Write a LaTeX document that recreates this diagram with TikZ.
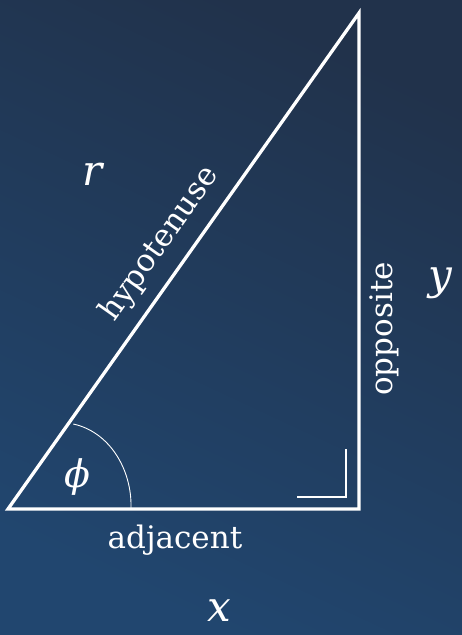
\documentclass[tikz,border=0pt]{standalone}
\usepackage{fontspec}
\setmainfont{DejaVu Serif}
\definecolor{bgtop}{HTML}{21324B}
\definecolor{bgbot}{HTML}{21466F}
\tikzset{
  side/.style={draw=white, line width=3.3pt, line join=miter},
  rmark/.style={draw=white, line width=1.7pt},
  anglearc/.style={draw=white, line width=0.9pt},
  word/.style={text=white, inner sep=0pt, font=\fontsize{31}{31}\selectfont},
  var/.style={text=white, inner sep=0pt, font=\fontsize{42}{42}\selectfont\itshape},
}
\begin{document}
\begin{tikzpicture}[x=1pt, y=-1pt]
\useasboundingbox (0,0) rectangle (462,635);
\shade[top color=bgtop, bottom color=bgbot, shading angle=-25] (0,0) rectangle (462,635);
% triangle
\coordinate (A) at (8,509);
\coordinate (B) at (359,509);
\coordinate (C) at (359,13);
\draw[side] (A) -- (B) -- (C) -- cycle;
% right angle mark
\coordinate (R1) at (297,497);
\coordinate (R2) at (346,497);
\coordinate (R3) at (346,449);
\draw[rmark] (R1) -- (R2) -- (R3);
% angle arc
\coordinate (P0) at (73.3,424);
\coordinate (P3) at (131,508);
\draw[anglearc] (P0) .. controls (110,432) and (132,470) .. (P3);
% labels
\node[var, font=\fontsize{38}{38}\selectfont\itshape] (phi) at (77,477) {ϕ};
\node[var] (r) at (93,174) {r};
\node[var] (x) at (219,611) {x};
\node[var] (y) at (440,283) {y};
\node[word] (adj) at (175,540) {adjacent};
\node[word, rotate=90] (opp) at (384,329) {opposite};
\node[word, rotate=54.7] (hyp) at (160,244) {hypotenuse};
\end{tikzpicture}
\end{document}
